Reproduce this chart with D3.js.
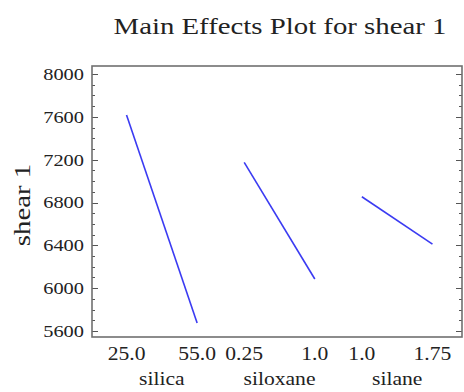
<!DOCTYPE html>
<html lang="en">
<head>
<meta charset="UTF-8">
<title>Main Effects Plot</title>
<style>
  body { margin: 0; background: #fff; }
  text { font-family: "Liberation Serif", "DejaVu Serif", serif; fill: #222; }
  .axis path { display: none; }
  .axis line { stroke: #555; shape-rendering: crispEdges; }
</style>
</head>
<body>
<div id="chart"></div>
<script src="https://cdnjs.cloudflare.com/ajax/libs/d3/7.8.5/d3.min.js"></script>
<script>
// data
const factors = ['silica', 'siloxane', 'silane'];
const levels = [['25.0', '55.0'], ['0.25', '1.0'], ['1.0', '1.75']];
const means = [[7617, 5675], [7175, 6086], [6854, 6412]];
const yTicks = [5600, 6000, 6400, 6800, 7200, 7600, 8000];

const width = 464, height = 392;
const plotLeft = 92, plotRight = 462, plotTop = 66, plotBottom = 337;
const stretch = 1.2;   // the source text is a little wide

const svg = d3.select('#chart').append('svg')
    .attr('width', width)
    .attr('height', height);

const y = d3.scaleLinear().domain([5544, 8075]).range([plotBottom, plotTop]);
const band = d3.scaleBand().domain(factors).range([103, 456]);

// x position of a level inside its factor's band
const xLevel = (f, i) => band(f) + band.bandwidth() * (i === 0 ? 0.2 : 0.8);

// minor ticks every 100, inside the frame on both sides
const minor = d3.range(5600, 8001, 100);
svg.append('g').attr('class', 'axis')
    .attr('transform', `translate(${plotLeft},0)`)
    .call(d3.axisRight(y).tickValues(minor).tickSize(3).tickFormat(''));
svg.append('g').attr('class', 'axis')
    .attr('transform', `translate(${plotLeft},0)`)
    .call(d3.axisRight(y).tickValues(yTicks).tickSize(6).tickFormat(''));
svg.append('g').attr('class', 'axis')
    .attr('transform', `translate(${plotRight},0)`)
    .call(d3.axisLeft(y).tickValues(minor).tickSize(3).tickFormat(''));
svg.append('g').attr('class', 'axis')
    .attr('transform', `translate(${plotRight},0)`)
    .call(d3.axisLeft(y).tickValues(yTicks).tickSize(6).tickFormat(''));

// y labels
svg.append('g').selectAll('text')
    .data(yTicks)
    .join('text')
      .attr('transform', d => `translate(84,${y(d)}) scale(${stretch},1)`)
      .attr('dy', '0.35em')
      .attr('text-anchor', 'end')
      .style('font-size', '17px')
      .text(d => d);

// frame
svg.append('rect')
    .attr('x', plotLeft).attr('y', plotTop)
    .attr('width', plotRight - plotLeft).attr('height', plotBottom - plotTop)
    .attr('fill', 'none')
    .attr('stroke', '#707070')
    .attr('stroke-width', 1.6);

// effect lines
const line = d3.line().x(d => d.x).y(d => y(d.v));
factors.forEach((f, k) => {
  const pts = means[k].map((v, i) => ({ x: xLevel(f, i), v: v }));
  svg.append('path')
      .datum(pts)
      .attr('d', line)
      .attr('fill', 'none')
      .attr('stroke', '#3b3bf2')
      .attr('stroke-width', 1.6);

  svg.append('g').selectAll('text')
      .data(levels[k])
      .join('text')
        .attr('transform', (d, i) => `translate(${xLevel(f, i)},360) scale(${stretch},1)`)
        .attr('text-anchor', 'middle')
        .style('font-size', '18px')
        .text(d => d);

  svg.append('text')
      .attr('transform', `translate(${band(f) + band.bandwidth() / 2},385) scale(${stretch},1)`)
      .attr('text-anchor', 'middle')
      .style('font-size', '18px')
      .text(f);
});

// titles
svg.append('text')
    .attr('transform', `translate(280,34) scale(${stretch},1)`)
    .attr('text-anchor', 'middle')
    .style('font-size', '24px')
    .text('Main Effects Plot for shear 1');

svg.append('text')
    .attr('transform', `translate(30,205) rotate(-90) scale(${stretch},1)`)
    .attr('text-anchor', 'middle')
    .style('font-size', '24px')
    .text('shear 1');
</script>
</body>
</html>
